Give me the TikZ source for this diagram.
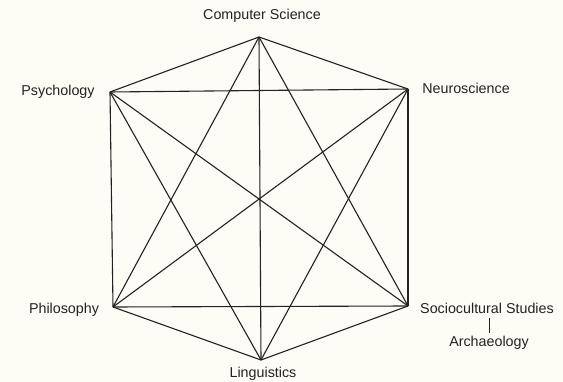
\documentclass[tikz,border=0pt]{standalone}
\usepackage{fontspec}
\setmainfont{Liberation Sans}
\usepackage{tikz}
\usetikzlibrary{positioning}
\definecolor{paperbg}{HTML}{FDFDF6}
\definecolor{inkgray}{HTML}{222222}

\begin{document}
\begin{tikzpicture}[
    x=1pt, y=-1pt,
    field/.style={font=\fontsize{14.3}{16}\selectfont, text=inkgray, inner sep=1pt},
    link/.style={draw=inkgray, line width=1.1pt},
]

% background, fixes the margins
\fill[paperbg] (0,0) rectangle (563,382);

% === Corners of the hexagon ===
\coordinate (cs) at (259,37);
\coordinate (psy) at (110,92);
\coordinate (neuro) at (408,89);
\coordinate (phil) at (113,307);
\coordinate (socio) at (408,306);
\coordinate (ling) at (261,360);

% === Every field linked to every other ===
\foreach \a/\b in {cs/psy, cs/neuro, cs/phil, cs/socio, cs/ling,
                   psy/neuro, psy/phil, psy/socio, psy/ling,
                   neuro/phil, neuro/socio, neuro/ling,
                   phil/socio, phil/ling, socio/ling}
  \draw[link] (\a) -- (\b);

% Field labels
\node[field] (cslabel) at (262,16) {Computer Science};
\node[field] (psylabel) at (58,92) {Psychology};
\node[field] (neurolabel) at (466,88) {Neuroscience};
\node[field] (phillabel) at (64,310) {Philosophy};
\node[field] (sociolabel) at (487,308) {Sociocultural Studies};
\node[field] (archlabel) at (489,343) {Archaeology};
\node[field] (linglabel) at (263,374) {Linguistics};

% Archaeology hangs under Sociocultural Studies
\draw[link, line width=0.8pt, shorten <=4pt, shorten >=2pt] (sociolabel.south -| archlabel) -- (archlabel.north);

\end{tikzpicture}
\end{document}
